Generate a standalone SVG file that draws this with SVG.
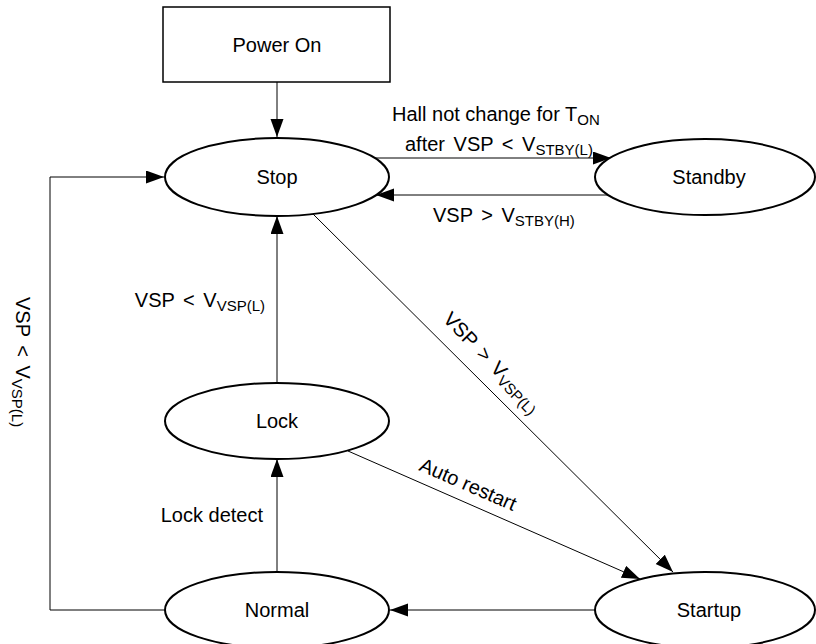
<svg xmlns="http://www.w3.org/2000/svg" width="816" height="644" viewBox="0 0 816 644">
<style>
.node{fill:#fff;stroke:#000;stroke-width:2}
.box{fill:#fff;stroke:#000;stroke-width:1.5}
.lbl{font-family:"Liberation Sans",Arial,sans-serif;font-size:20px;fill:#000}
.ws{word-spacing:3px}
.nt{font-family:"Liberation Sans",Arial,sans-serif;font-size:20px;fill:#000;text-anchor:middle}
.sub{font-size:15px}
.edge{fill:none;stroke:#000;stroke-width:1}
</style>
<defs>
<marker id="ah" markerUnits="userSpaceOnUse" markerWidth="19" markerHeight="14" refX="18" refY="6.5" orient="auto">
<path d="M0,0 L18,6.5 L0,13 Z" fill="#000"/>
</marker>
</defs>
<rect width="816" height="644" fill="#fff"/>
<g id="connectors">
<path class="edge" d="M277,82 V137" marker-end="url(#ah)"/>
<path class="edge" d="M375,158 H611" marker-end="url(#ah)"/>
<path class="edge" d="M610,195 H376" marker-end="url(#ah)"/>
<path class="edge" d="M277,383 V216" marker-end="url(#ah)"/>
<path class="edge" d="M277,572 V459" marker-end="url(#ah)"/>
<path class="edge" d="M596,610 H390" marker-end="url(#ah)"/>
<path class="edge" d="M164,610 H50 V177 H164" marker-end="url(#ah)"/>
<path class="edge" d="M313,214 L673,572" marker-end="url(#ah)"/>
<path class="edge" d="M348,451 L640,579" marker-end="url(#ah)"/>
</g>
<g id="labels">
<text class="lbl" x="392" y="121">Hall not change for T<tspan class="sub" dy="4">ON</tspan></text>
<text class="lbl ws" x="405" y="151">after VSP &lt; V<tspan class="sub" dy="4">STBY(L)</tspan></text>
<text class="lbl ws" x="433" y="222">VSP &gt; V<tspan class="sub" dy="4">STBY(H)</tspan></text>
<text class="lbl ws" x="265" y="307" text-anchor="end">VSP &lt; V<tspan class="sub" dy="4">VSP(L)</tspan></text>
<text class="lbl" x="263" y="522" text-anchor="end">Lock detect</text>
<text class="lbl ws" transform="translate(16,297) rotate(90)">VSP &lt; V<tspan class="sub" dy="4">VSP(L)</tspan></text>
<text class="lbl ws" transform="translate(442,320) rotate(46)">VSP &gt; V<tspan class="sub" dy="4">VSP(L)</tspan></text>
<text class="lbl" transform="translate(418,470) rotate(23.5)">Auto restart</text>
</g>
<g id="power-on">
<rect class="box" x="163" y="7" width="227" height="75"/>
<text class="nt" x="277" y="52">Power On</text>
</g>
<g id="stop">
<ellipse class="node" cx="277" cy="177" rx="112" ry="39"/>
<text class="nt" x="277" y="184">Stop</text>
</g>
<g id="standby">
<ellipse class="node" cx="705" cy="177" rx="110" ry="38"/>
<text class="nt" x="709" y="184">Standby</text>
</g>
<g id="lock">
<ellipse class="node" cx="277" cy="421" rx="112" ry="38"/>
<text class="nt" x="277" y="428">Lock</text>
</g>
<g id="normal">
<ellipse class="node" cx="277" cy="610" rx="112" ry="38"/>
<text class="nt" x="277" y="617">Normal</text>
</g>
<g id="startup">
<ellipse class="node" cx="705" cy="610" rx="110" ry="38"/>
<text class="nt" x="709" y="617">Startup</text>
</g>
</svg>
